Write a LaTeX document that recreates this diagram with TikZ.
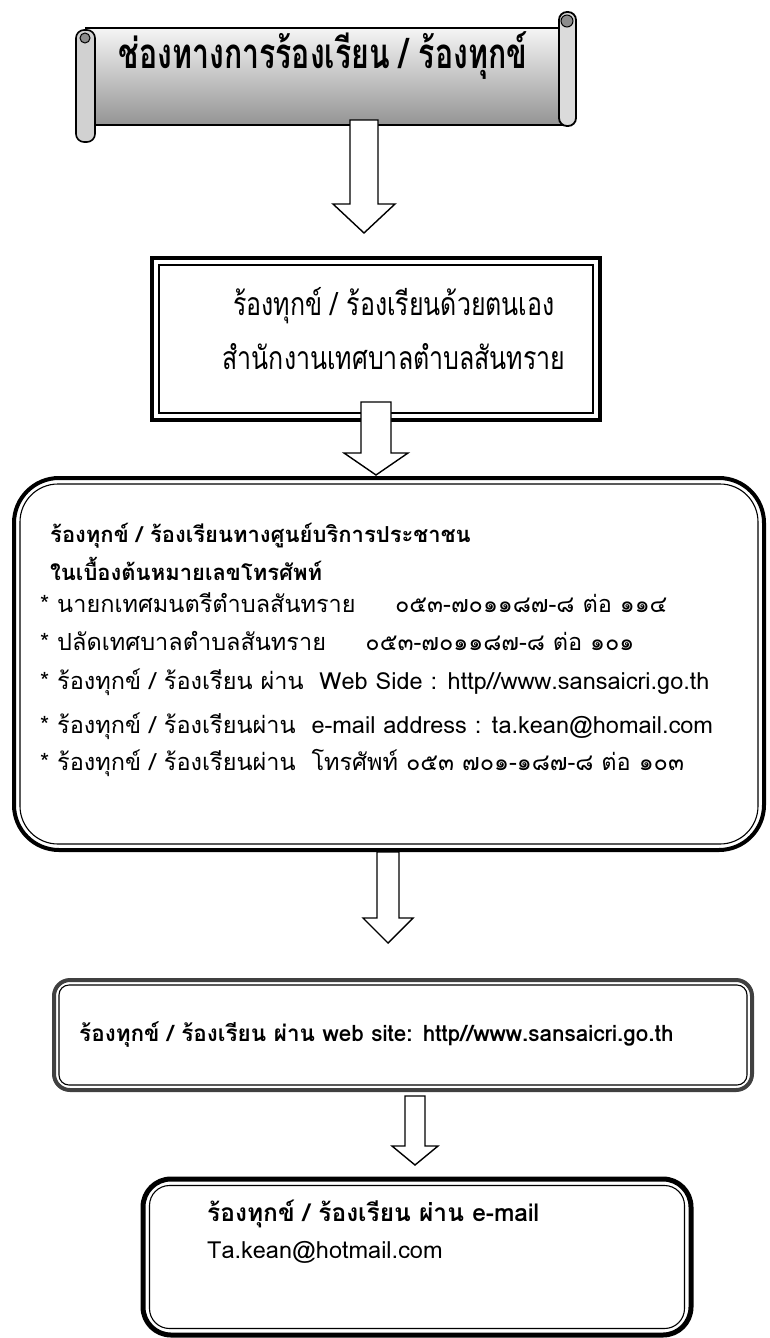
\documentclass[tikz,border=0pt]{standalone}
\usepackage{fontspec}
\setmainfont[Script=Thai]{Loma}
\usetikzlibrary{positioning}
\tikzset{
  hollow arrow/.style={draw=black,line width=1.4pt,line join=miter,fill=white},
  frame box/.style={draw=black,line width=4pt,inner sep=0pt,fill=white},
  inner frame/.style={draw=black,line width=1.1pt},
  body text/.style={anchor=west,inner sep=0pt,font=\fontsize{23.5}{28}\selectfont},
  bold text/.style={anchor=west,inner sep=0pt,font=\fontsize{22}{28}\selectfont\bfseries},
}
\begin{document}
\begin{tikzpicture}[x=1pt,y=-1pt]
\definecolor{rollColor}{gray}{0.55}
\path[use as bounding box,fill=white] (0,0) rectangle (770,1338);

% heading scroll
\path[draw=black,line width=1.6pt,top color=black!4,bottom color=black!42] (86,28) rectangle (566,125);
\path[draw=black,line width=1.6pt,fill=black!18,rounded corners=8pt] (76,30) rectangle (95,142);
\path[draw=black,line width=1.8pt,fill=black!14,rounded corners=8pt] (559,12) rectangle (576,126);
\path[draw=black,line width=1pt,fill=rollColor] (85,38) circle (5);
\path[draw=black,line width=1pt,fill=rollColor] (567,21) circle (6);
\node[inner sep=0pt,xscale=0.72,font=\fontsize{42}{48}\selectfont\bfseries] (head) at (323,56) {ช่องทางการร้องเรียน / ร้องทุกข์};
\coordinate (scrollfoot) at (364,120);

% boxes
\node[frame box,minimum width=448pt,minimum height=162pt] (self) at (376,339) {};
\draw[inner frame] ([shift={(9pt,-9pt)}]self.north west) rectangle ([shift={(-9pt,9pt)}]self.south east);
\node[inner sep=0pt,xscale=0.78,font=\fontsize{32}{38}\selectfont] (selfA) at (394,306) {ร้องทุกข์ / ร้องเรียนด้วยตนเอง};
\node[inner sep=0pt,xscale=0.78,font=\fontsize{32}{38}\selectfont] (selfB) at (394,357) {สำนักงานเทศบาลตำบลสันทราย};

\node[frame box,rounded corners=45pt,minimum width=750pt,minimum height=372pt] (centre) at (389,664) {};
\draw[inner frame,rounded corners=38pt] ([shift={(8pt,-8pt)}]centre.north west) rectangle ([shift={(-8pt,8pt)}]centre.south east);
\node[bold text] (centreA) at (50,536) {ร้องทุกข์ / ร้องเรียนทางศูนย์บริการประชาชน};
\node[bold text] (centreB) at (50,569) {ในเบื้องต้นหมายเลขโทรศัพท์};
\node[body text] (mayor) at (40,603) {* นายกเทศมนตรีตำบลสันทราย\quad\ \ ๐๕๓-๗๐๑๑๘๗-๘ ต่อ ๑๑๔};
\node[body text] (clerk) at (40,641) {* ปลัดเทศบาลตำบลสันทราย\quad\ \ ๐๕๓-๗๐๑๑๘๗-๘ ต่อ ๑๐๑};
\node[body text] (web) at (40,682) {* ร้องทุกข์ / ร้องเรียน ผ่าน\ \ Web Side : http//www.sansaicri.go.th};
\node[body text] (mail) at (40,726) {* ร้องทุกข์ / ร้องเรียนผ่าน\ \ e-mail address : ta.kean@homail.com};
\node[body text] (phone) at (40,763) {* ร้องทุกข์ / ร้องเรียนผ่าน\ \ โทรศัพท์ ๐๕๓ ๗๐๑-๑๘๗-๘ ต่อ ๑๐๓};

\node[frame box,draw=black!75,rounded corners=16pt,minimum width=698pt,minimum height=110pt] (site) at (403,1035) {};
\draw[inner frame,rounded corners=10pt] ([shift={(7pt,-7pt)}]site.north west) rectangle ([shift={(-7pt,7pt)}]site.south east);
\node[bold text,font=\fontsize{22.5}{26}\selectfont\bfseries] (siteA) at (79,1035) {ร้องทุกข์ / ร้องเรียน ผ่าน web site: http//www.sansaicri.go.th};

\node[frame box,line width=5pt,rounded corners=28pt,minimum width=548pt,minimum height=156pt] (email) at (417,1257) {};
\draw[inner frame,rounded corners=20pt] ([shift={(9pt,-9pt)}]email.north west) rectangle ([shift={(-9pt,9pt)}]email.south east);
\node[bold text,font=\fontsize{24.5}{28}\selectfont\bfseries] (emailA) at (207,1214) {ร้องทุกข์ / ร้องเรียน ผ่าน e-mail};
\node[body text] (emailB) at (207,1252) {Ta.kean@hotmail.com};

% block arrows
\draw[hollow arrow] (scrollfoot) ++(-14,0) -- ++(0,84) -- ++(-17,0) -- ++(31,29) -- ++(31,-29) -- ++(-17,0) -- ++(0,-84) -- cycle;
\draw[hollow arrow] ([yshift=20pt]self.south) ++(-15,0) -- ++(0,51) -- ++(-17,0) -- ++(32,22) -- ++(32,-22) -- ++(-17,0) -- ++(0,-51) -- cycle;
\draw[hollow arrow] ([xshift=-1pt]centre.south) ++(-11,0) -- ++(0,66) -- ++(-14,0) -- ++(25,25) -- ++(25,-25) -- ++(-14,0) -- ++(0,-66) -- cycle;
\draw[hollow arrow] ([xshift=12pt,yshift=-4pt]site.south) ++(-10,0) -- ++(0,50) -- ++(-13,0) -- ++(23,19) -- ++(23,-19) -- ++(-13,0) -- ++(0,-50) -- cycle;
\end{tikzpicture}
\end{document}
